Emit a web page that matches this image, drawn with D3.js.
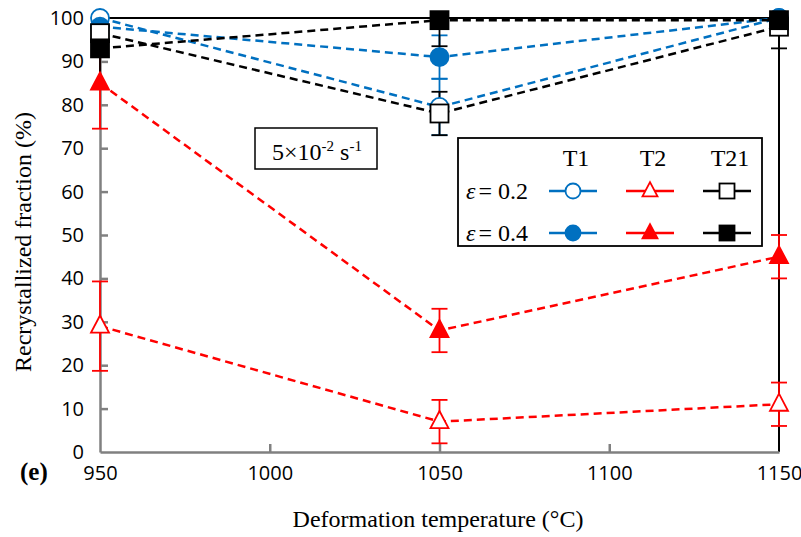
<!DOCTYPE html>
<html><head><meta charset="utf-8">
<script src="https://cdn.jsdelivr.net/npm/d3@7"></script>
<style>body{margin:0;background:#fff}</style>
</head><body>
<svg id="c" width="801" height="537"></svg>
<script>
const temps = [950, 1050, 1150];
const xTicks = [950, 1000, 1050, 1100, 1150];
const xTickLabels = ["950", "1000", "1050", "1100", "1150"];
const yTicks = [0,10,20,30,40,50,60,70,80,90,100];

const T1_e02 = [100, 79.5, 100];
const T1_e02_err = [0, 6.5, 0];
const T1_e04 = [98, 91, 100];
const T1_e04_err = [0, 5, 0];
const T2_e02 = [29, 7, 11];
const T2_e02_err = [10.3, 5, 5];
const T2_e04 = [85, 28, 45];
const T2_e04_err = [10.5, 5, 5];
const T21_e02 = [96.5, 78, 98];
const T21_e02_err = [0, 5, 5];
const T21_e04 = [93, 99.5, 99.5];
const T21_e04_err = [9, 6, 0];
const frameLine = [[950,100],[1150,100],[1150,0]];

const BLUE = "#0070c0", RED = "#ff0000", BLACK = "#000000";

const series = [
  {vals:T2_e02, err:T2_e02_err, color:RED, shape:"tri", fill:false},
  {vals:T2_e04, err:T2_e04_err, color:RED, shape:"tri", fill:true},
  {vals:T1_e02, err:T1_e02_err, color:BLUE, shape:"circ", fill:false},
  {vals:T1_e04, err:T1_e04_err, color:BLUE, shape:"circ", fill:true},
  {vals:T21_e02, err:T21_e02_err, color:BLACK, shape:"sq", fill:false},
  {vals:T21_e04, err:T21_e04_err, color:BLACK, shape:"sq", fill:true}
];

const svg = d3.select("#c");
const x = d3.scaleLinear().domain([950,1150]).range([100,779]);
const y = d3.scaleLinear().domain([0,100]).range([452,18]);

svg.append("path")
  .attr("d", d3.line().x(d=>x(d[0])).y(d=>y(d[1]))(frameLine))
  .attr("fill","none").attr("stroke",BLACK).attr("stroke-width",2);

const gy = svg.append("g").attr("transform","translate(100,0)")
  .call(d3.axisLeft(y).tickValues(yTicks).tickSizeInner(-8).tickSizeOuter(0).tickPadding(16));
const gx = svg.append("g").attr("transform","translate(0,452)")
  .call(d3.axisBottom(x).tickValues(xTicks).tickFormat((d,i)=>xTickLabels[i]).tickSizeInner(-8).tickSizeOuter(0).tickPadding(14));
[gy,gx].forEach(g=>{
  g.select(".domain").attr("stroke","#808080").attr("stroke-width",2.5);
  g.selectAll(".tick line").attr("stroke","#808080").attr("stroke-width",2.5);
  g.selectAll(".tick text").attr("fill","#000").style("font-family","'Open Sans'").style("font-size","20px");
});
gx.selectAll(".tick text").attr("dy","0.71em");
gx.selectAll(".tick line").filter(d=>d===950||d===1150).remove();
gy.selectAll(".tick line").filter(d=>d===0).remove();

function drawMarker(g, shape, fill, color, cx, cy, s) {
  const f = fill ? color : "#fff";
  if (shape==="circ") {
    g.append("circle").attr("cx",cx).attr("cy",cy).attr("r",s/2)
      .attr("fill",f).attr("stroke",color).attr("stroke-width",1.8);
  } else if (shape==="sq") {
    g.append("rect").attr("x",cx-s/2).attr("y",cy-s/2).attr("width",s).attr("height",s)
      .attr("fill",f).attr("stroke",color).attr("stroke-width",1.8);
  } else {
    const h = s*0.95;
    g.append("path").attr("d",`M${cx},${cy-h*0.62}L${cx+s/2},${cy+h*0.38}L${cx-s/2},${cy+h*0.38}Z`)
      .attr("fill",f).attr("stroke",color).attr("stroke-width",1.8);
  }
}

const line = d3.line().x((d,i)=>x(temps[i])).y(d=>y(d));
const plot = svg.append("g");
series.forEach(s=>{
  s.vals.forEach((v,i)=>{
    const e = s.err[i]; if(!e) return;
    const cx = x(temps[i]);
    const top = Math.min(100, v+e), bot = v-e;
    plot.append("line").attr("x1",cx).attr("x2",cx).attr("y1",y(top)).attr("y2",y(bot))
      .attr("stroke",s.color).attr("stroke-width",1.8);
    if (v+e<=100.5) plot.append("line").attr("x1",cx-8).attr("x2",cx+8).attr("y1",y(v+e)).attr("y2",y(v+e))
      .attr("stroke",s.color).attr("stroke-width",1.8);
    plot.append("line").attr("x1",cx-8).attr("x2",cx+8).attr("y1",y(bot)).attr("y2",y(bot))
      .attr("stroke",s.color).attr("stroke-width",1.8);
  });
});
series.forEach(s=>{
  plot.append("path").attr("d",line(s.vals)).attr("fill","none")
    .attr("stroke",s.color).attr("stroke-width",2.5).attr("stroke-dasharray","8,5");
});
series.forEach(s=>{
  s.vals.forEach((v,i)=>drawMarker(plot,s.shape,s.fill,s.color,x(temps[i]),y(v),18));
});

// annotation box
svg.append("rect").attr("x",255).attr("y",128).attr("width",122).attr("height",41)
  .attr("fill","#fff").attr("stroke","#000").attr("stroke-width",1.5);
const ann = svg.append("text").attr("x",317).attr("y",160).attr("text-anchor","middle")
  .style("font-family","'Liberation Serif'").style("font-size","24px");
ann.append("tspan").text("5×10");
ann.append("tspan").attr("dy",-9).style("font-size","15px").text("-2");
ann.append("tspan").attr("dy",9).text(" s");
ann.append("tspan").attr("dy",-9).style("font-size","15px").text("-1");

// legend
svg.append("rect").attr("x",458).attr("y",138).attr("width",304).attr("height",108)
  .attr("fill","#fff").attr("stroke","#000").attr("stroke-width",1.8);
const colX = [573, 650, 727];
const headers = ["T1","T2","T21"];
headers.forEach((h,i)=>svg.append("text").attr("x",colX[i]+3).attr("y",166).attr("text-anchor","middle")
  .style("font-family","'Liberation Serif'").style("font-size","24px").text(h));
const rowY = [191, 233];
const rowLab = ["0.2","0.4"];
rowY.forEach((ry,r)=>{
  const t = svg.append("text").attr("x",466).attr("y",ry+8)
    .style("font-family","'Liberation Serif'").style("font-size","24px");
  t.append("tspan").style("font-style","italic").text("ε");
  t.append("tspan").attr("dx",3).text("= "+rowLab[r]);
});
const legSeries = [[2,3],[0,1],[4,5]];
legSeries.forEach((pair,c)=>{
  pair.forEach((si,r)=>{
    const s = series[si];
    svg.append("line").attr("x1",colX[c]-24).attr("x2",colX[c]+24).attr("y1",rowY[r]).attr("y2",rowY[r])
      .attr("stroke",s.color).attr("stroke-width",2.5);
    drawMarker(svg,s.shape,s.fill,s.color,colX[c],rowY[r],15);
  });
});

// axis titles
svg.append("text").attr("transform","translate(31,242) rotate(-90)").attr("text-anchor","middle")
  .style("font-family","'Liberation Serif'").style("font-size","24px").text("Recrystallized fraction (%)");
svg.append("text").attr("x",438).attr("y",527).attr("text-anchor","middle")
  .style("font-family","'Liberation Serif'").style("font-size","24px").text("Deformation temperature (°C)");
svg.append("text").attr("x",20).attr("y",480)
  .style("font-family","'Liberation Serif'").style("font-size","25px").style("font-weight","bold").text("(e)");
</script>
</body></html>
